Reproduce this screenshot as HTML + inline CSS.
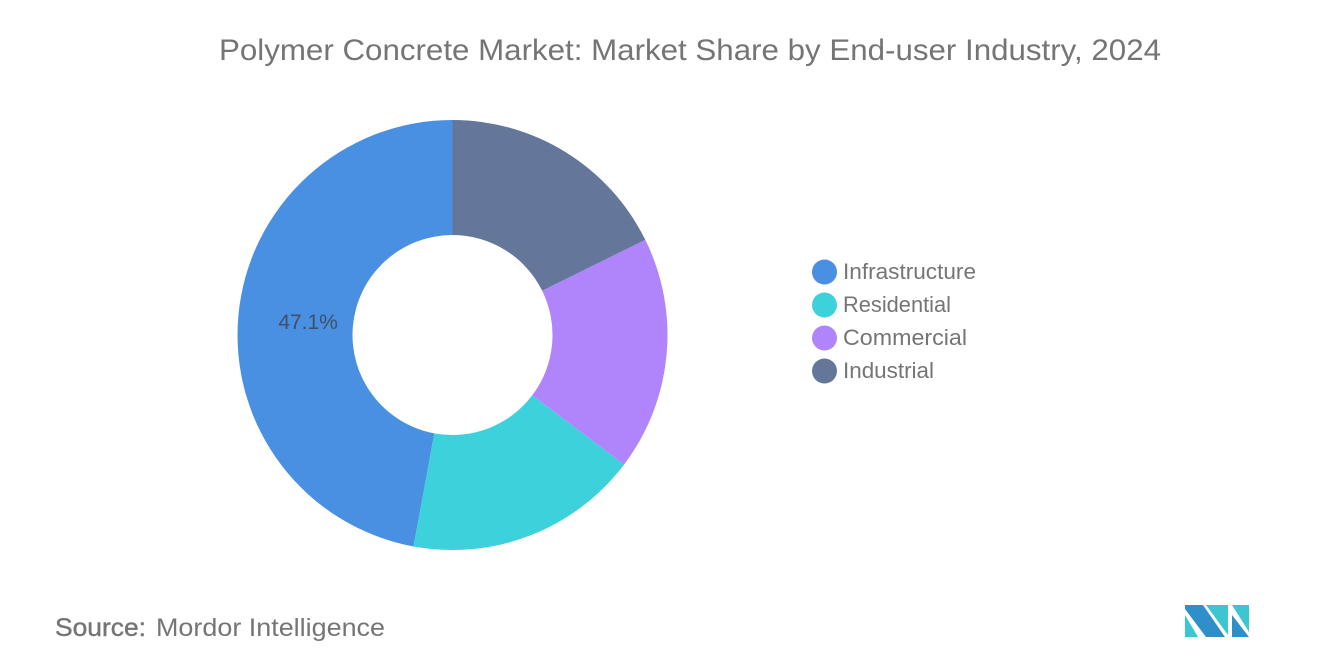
<!DOCTYPE html>
<html lang="en">
<head>
<meta charset="utf-8">
<title>Polymer Concrete Market Share</title>
<style>
html,body{margin:0;padding:0;background:#fff;width:1320px;height:665px;overflow:hidden}
svg{display:block}
text{font-family:"Liberation Sans",sans-serif}
</style>
</head>
<body>
<svg id="chart" width="1320" height="665" viewBox="0 0 1320 665" xmlns="http://www.w3.org/2000/svg">
  <text x="219" y="60" font-size="30" fill="#757575" textLength="942" lengthAdjust="spacingAndGlyphs">Polymer Concrete Market: Market Share by End-user Industry, 2024</text>
  <g id="slices"></g>
  <g id="labels"></g>
  <g id="legend"></g>
  <text x="55" y="636" font-size="25" fill="#757575" textLength="91" lengthAdjust="spacingAndGlyphs" style="stroke:#757575;stroke-width:.4">Source:</text>
  <text x="156" y="636" font-size="25" fill="#757575" textLength="229" lengthAdjust="spacingAndGlyphs">Mordor Intelligence</text>
  <g>
    <polygon points="1185,615 1185,637 1198,637" fill="#3ec6d0"/>
    <polygon points="1185,605 1203,605 1225,637 1206,637 1185,609" fill="#2f8fc9"/>
    <polygon points="1206,605 1228,605 1228,635" fill="#3ec6d0"/>
    <polygon points="1232,605 1249,605 1249,632" fill="#3ec6d0"/>
    <polygon points="1232,615 1249,637 1232,637" fill="#2f8fc9"/>
  </g>
</svg>
<script>
const categories = ["Infrastructure", "Residential", "Commercial", "Industrial"];
const shares = [47.1, 17.6, 17.6, 17.7];
const printedLabels = ["47.1%", "", "", ""];
const colors = ["#4a90e2", "#3dd1dc", "#b085fb", "#64779b"];

const NS = "http://www.w3.org/2000/svg";
const cx = 452.5, cy = 335, outerR = 215, innerR = 100, labelR = 145;
const legendTextWidths = { Infrastructure: 133, Residential: 108, Commercial: 124, Industrial: 91 };
const total = shares.reduce(function (a, b) { return a + b; }, 0);

// Angle axis: slices run counter-clockwise from 12 o'clock.
function angleAt(cum) {
  return -cum / total * 2 * Math.PI;
}
function pt(r, a) {
  return [cx + r * Math.sin(a), cy - r * Math.cos(a)];
}
function arcPath(a0, a1) {
  const large = Math.abs(a1 - a0) > Math.PI ? 1 : 0;
  const p0 = pt(outerR, a0), p1 = pt(outerR, a1), p2 = pt(innerR, a1), p3 = pt(innerR, a0);
  return "M" + p0[0] + " " + p0[1] +
    "A" + outerR + " " + outerR + " 0 " + large + " 0 " + p1[0] + " " + p1[1] +
    "L" + p2[0] + " " + p2[1] +
    "A" + innerR + " " + innerR + " 0 " + large + " 1 " + p3[0] + " " + p3[1] + "Z";
}

const slicesG = document.getElementById("slices");
const labelsG = document.getElementById("labels");
const legendG = document.getElementById("legend");
let cum = 0;
categories.forEach(function (cat, i) {
  const a0 = angleAt(cum);
  const a1 = angleAt(cum + shares[i]);
  const slice = document.createElementNS(NS, "path");
  slice.setAttribute("d", arcPath(a0, a1));
  slice.setAttribute("fill", colors[i]);
  
  
  slicesG.appendChild(slice);

  if (printedLabels[i]) {
    const mid = (a0 + a1) / 2;
    const p = pt(labelR, mid);
    const t = document.createElementNS(NS, "text");
    t.setAttribute("x", p[0]);
    t.setAttribute("y", p[1] + 7);
    t.setAttribute("text-anchor", "middle");
    t.setAttribute("font-size", "21");
    t.setAttribute("fill", "#3f5068");
    t.textContent = printedLabels[i];
    
    
    labelsG.appendChild(t);
  }
  cum += shares[i];

  const y = 272 + i * 33;
  const dot = document.createElementNS(NS, "circle");
  dot.setAttribute("cx", 824.5);
  dot.setAttribute("cy", y);
  dot.setAttribute("r", 12.5);
  dot.setAttribute("fill", colors[i]);
  
  
  legendG.appendChild(dot);

  const lab = document.createElementNS(NS, "text");
  lab.setAttribute("x", 843);
  lab.setAttribute("y", y + 7);
  lab.setAttribute("font-size", "22");
  lab.setAttribute("fill", "#757575");
  if (legendTextWidths[cat]) {
    lab.setAttribute("textLength", legendTextWidths[cat]);
    lab.setAttribute("lengthAdjust", "spacingAndGlyphs");
  }
  lab.textContent = cat;
  
  
  legendG.appendChild(lab);
});
</script>
</body>
</html>
